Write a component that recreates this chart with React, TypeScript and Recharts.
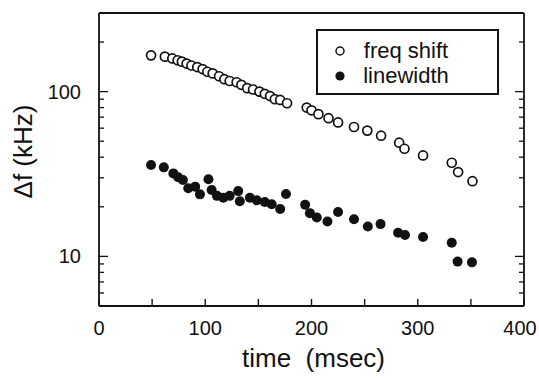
import React from 'react';
import { ScatterChart, Scatter, XAxis, YAxis, Legend } from 'recharts';

// ---- data ----
const freqTime = [49, 62, 69, 74, 78, 82.5, 87, 92.5, 97.5, 102, 107, 113, 118, 123, 129.5, 134, 139.5, 145, 151, 156, 161, 165.5, 170.5, 177, 195.5, 200, 206.5, 216, 225, 240, 252.5, 265.5, 282.5, 287.5, 305, 332, 338, 351.5];
const freqShift = [166, 163, 159, 155, 152, 148, 144, 141, 137, 132, 129, 124, 119, 116, 114, 110, 105, 103, 100, 97, 94, 90, 89, 85, 80, 77, 73, 69, 65, 61, 58, 54, 49, 45, 41, 37, 32.5, 28.6];

const lineTime = [49, 61, 70, 74.5, 79, 84, 90.5, 95, 103, 106, 111, 117, 123, 131, 132.5, 142, 148.5, 156, 162.5, 170.5, 176, 194, 198.5, 205, 215, 225, 240, 253, 265, 281.5, 288, 305, 332, 337.5, 351];
const lineWidth = [35.9, 34.7, 31.9, 30.2, 29.1, 25.9, 26.5, 23.8, 29.4, 25.3, 23.3, 22.7, 23.3, 24.9, 21.6, 22.7, 21.9, 21.4, 20.7, 19.4, 23.9, 20.6, 18.3, 17.2, 16.3, 18.6, 16.8, 15.2, 15.7, 13.9, 13.5, 13.1, 12.1, 9.3, 9.2];

const seriesNames = ['freq shift', 'linewidth'];

const xTicks = [0, 50, 100, 150, 200, 250, 300, 350, 400];
const xLabels = [0, 100, 200, 300, 400];
const yTicks = [5, 6, 7, 8, 9, 10, 20, 30, 40, 50, 60, 70, 80, 90, 100, 200, 300];
const yLabels = [10, 100];

const xTitle = 'time  (msec)';
const yTitle = '\u0394f (kHz)';

// ---- styles ----
const INK = '#111';
const FONT = '"Liberation Sans", Arial, Helvetica, sans-serif';
const AXIS_W = 1.8;
const CHART_W = 539;

const freqData = freqTime.map((t, i) => ({ t, v: freqShift[i] }));
const lineData = lineTime.map((t, i) => ({ t, v: lineWidth[i] }));

const OpenDot = (p: any) => (
  <circle cx={p.cx} cy={p.cy} r={4.5} fill="#fff" stroke={INK} strokeWidth={1.7} />
);
const FilledDot = (p: any) => <circle cx={p.cx} cy={p.cy} r={5} fill={INK} stroke="none" />;

const BottomTick = (p: any) => {
  const { x, y, payload } = p;
  const major = xLabels.includes(payload.value);
  const tx = Math.min(x, CHART_W - 19);
  return (
    <g>
      <line x1={x} y1={y} x2={x} y2={y - 7} stroke={INK} strokeWidth={1.4} />
      {major && (
        <text x={tx} y={y + 22} textAnchor="middle" dominantBaseline="central" fontFamily={FONT} fontSize={20} fill={INK}>
          {payload.value}
        </text>
      )}
    </g>
  );
};

const TopTick = (p: any) => {
  const { x, y } = p;
  return <line x1={x} y1={y} x2={x} y2={y + 7} stroke={INK} strokeWidth={1.4} />;
};

const LeftTick = (p: any) => {
  const { x, y, payload } = p;
  const major = yLabels.includes(payload.value);
  return (
    <g>
      <line x1={x} y1={y} x2={x + (major ? 9 : 5)} y2={y} stroke={INK} strokeWidth={1.3} />
      {major && (
        <text x={x - 18} y={y} textAnchor="end" dominantBaseline="central" fontFamily={FONT} fontSize={20} fill={INK}>
          {payload.value}
        </text>
      )}
    </g>
  );
};

const RightTick = (p: any) => {
  const { x, y, payload } = p;
  const major = yLabels.includes(payload.value);
  return <line x1={x} y1={y} x2={x - (major ? 9 : 5)} y2={y} stroke={INK} strokeWidth={1.3} />;
};

const LegendBox = (props: any) => {
  const payload = props.payload || [];
  return (
    <div
      style={{
        boxSizing: 'border-box',
        width: 183,
        height: 66,
        border: `2px solid ${INK}`,
        background: '#fff',
        position: 'relative',
        fontFamily: FONT,
        fontSize: 22,
        color: INK,
      }}
    >
      {payload.map((entry: any, i: number) => {
        const filled = seriesNames.indexOf(entry.value) === 1;
        return (
          <div
            key={entry.value}
            style={{ position: 'absolute', left: 0, top: 7 + i * 25, height: 25, width: '100%' }}
          >
            <svg width={12} height={12} style={{ position: 'absolute', left: 16, top: 7 }}>
              {filled ? (
                <circle cx={6} cy={6} r={4.6} fill={INK} />
              ) : (
                <circle cx={6} cy={6} r={4} fill="#fff" stroke={INK} strokeWidth={1.5} />
              )}
            </svg>
            <span style={{ position: 'absolute', left: 38, width: 100, textAlign: 'center', lineHeight: '25px', whiteSpace: 'nowrap' }}>{entry.value}</span>
          </div>
        );
      })}
    </div>
  );
};

export default function App() {
  return (
    <div style={{ position: 'absolute', left: 0, top: 0, background: '#fff' }}>
      <ScatterChart width={CHART_W} height={379} margin={{ top: 12, right: 14, bottom: 0, left: 0 }}>
        <XAxis
          dataKey="t"
          type="number"
          domain={[0, 400]}
          ticks={xTicks}
          interval={0}
          height={73}
          tickSize={0}
          tickMargin={0}
          tickLine={false}
          tick={<BottomTick />}
          axisLine={{ stroke: INK, strokeWidth: AXIS_W }}
          label={(lp: any) => {
            const vb = lp.viewBox;
            return (
              <text x={vb.x + vb.width / 2 + 2} y={358} textAnchor="middle" dominantBaseline="central" fontFamily={FONT} fontSize={26} fill={INK} style={{ whiteSpace: 'pre' }} xmlSpace="preserve">
                {xTitle}
              </text>
            );
          }}
        />
        <XAxis
          xAxisId="top"
          orientation="top"
          dataKey="t"
          type="number"
          domain={[0, 400]}
          ticks={xTicks}
          interval={0}
          height={1}
          tickSize={0}
          tickMargin={0}
          tickLine={false}
          tick={<TopTick />}
          axisLine={{ stroke: INK, strokeWidth: AXIS_W }}
        />
        <YAxis
          dataKey="v"
          type="number"
          scale="log"
          domain={[5, 300]}
          allowDataOverflow
          ticks={yTicks}
          interval={0}
          width={99}
          tickSize={0}
          tickMargin={0}
          tickLine={false}
          tick={<LeftTick />}
          axisLine={{ stroke: INK, strokeWidth: AXIS_W }}
          label={(lp: any) => {
            const vb = lp.viewBox;
            const cy = vb.y + vb.height / 2 - 8;
            return (
              <text x={23} y={cy} transform={`rotate(-90 23 ${cy})`} textAnchor="middle" dominantBaseline="central" fontFamily={FONT} fontSize={26} fill={INK}>
                {yTitle}
              </text>
            );
          }}
        />
        <YAxis
          yAxisId="right"
          orientation="right"
          dataKey="v"
          type="number"
          scale="log"
          domain={[5, 300]}
          allowDataOverflow
          ticks={yTicks}
          interval={0}
          width={1}
          tickSize={0}
          tickMargin={0}
          tickLine={false}
          tick={<RightTick />}
          axisLine={{ stroke: INK, strokeWidth: AXIS_W }}
        />
        <Legend
          layout="vertical"
          align="center"
          verticalAlign="middle"
          content={<LegendBox />}
          wrapperStyle={{ position: 'absolute', left: 316, top: 29, width: 183, height: 66 }}
        />
        <Scatter name={seriesNames[0]} data={freqData} shape={<OpenDot />} fill="#fff" isAnimationActive={false} />
        <Scatter name={seriesNames[1]} data={lineData} shape={<FilledDot />} fill={INK} isAnimationActive={false} />
      </ScatterChart>
    </div>
  );
}
